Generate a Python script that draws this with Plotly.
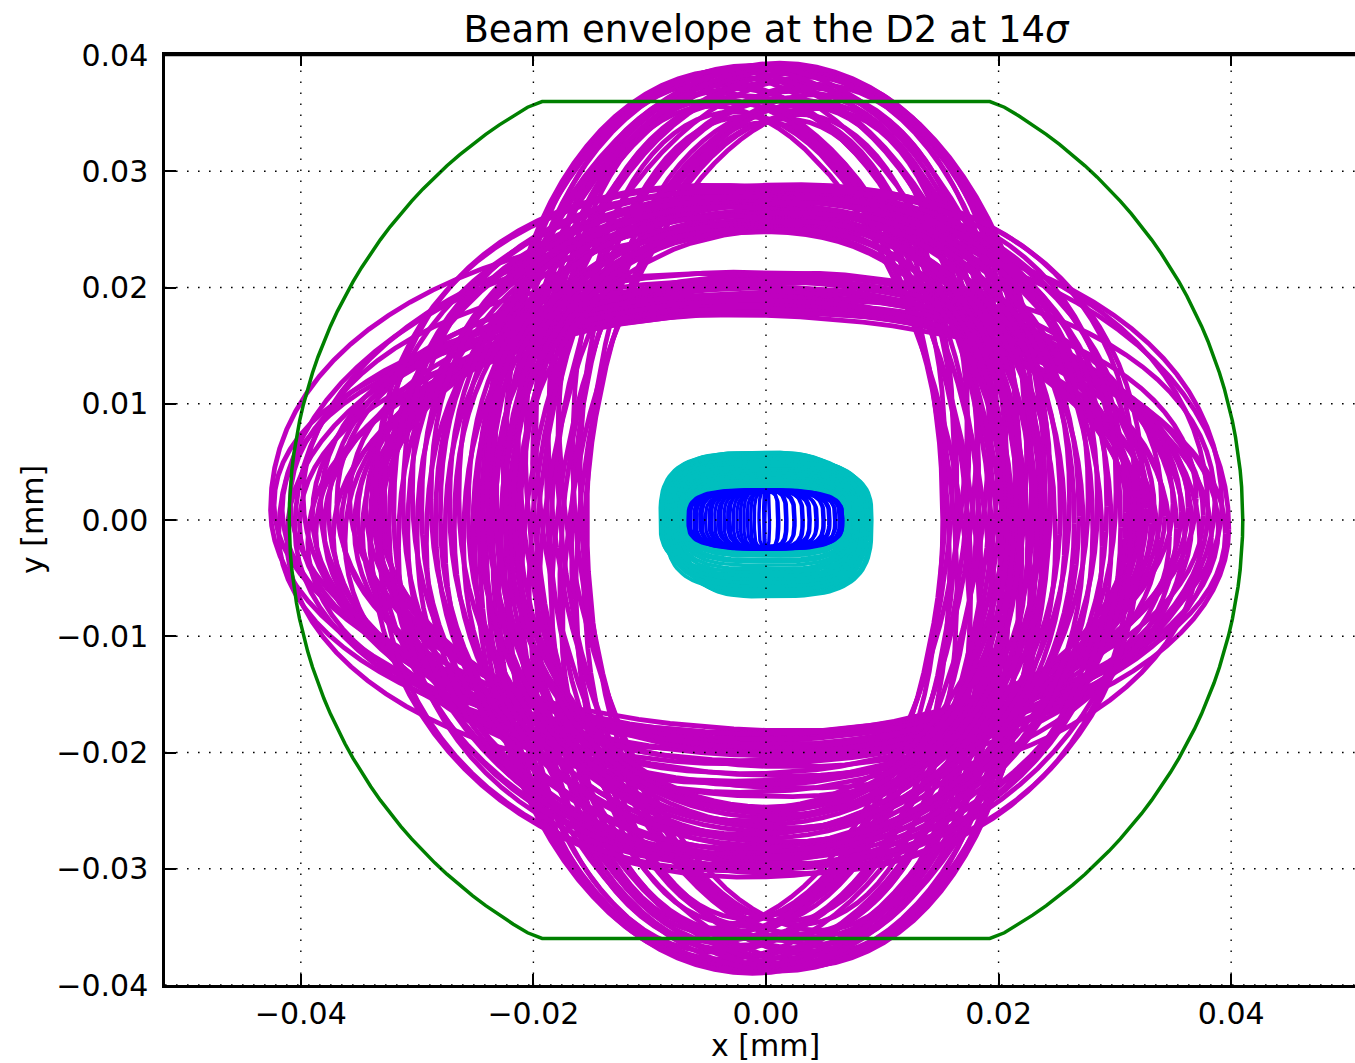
import numpy as np
import plotly.graph_objects as go

# ---------------------------------------------------------------------------
# Envelope outlines at the D2.  Each closed outline is described by its
# extents (left, right, top, bottom) and a small lean; the upper and lower
# halves may have different squareness.
# ---------------------------------------------------------------------------

# vertically elongated envelopes (ellipse-like)
tall_left = [-0.0154, -0.0156, -0.0159, -0.0161, -0.0164, -0.0167, -0.0169, -0.0172, -0.0175,
             -0.0177, -0.0180, -0.0183, -0.0185, -0.0188, -0.0191, -0.0193, -0.0196, -0.0199,
             -0.0201, -0.0204, -0.0207, -0.0209, -0.0212, -0.0215, -0.0217, -0.0220, -0.0223,
             -0.0225, -0.0228, -0.0231, -0.0234, -0.0237, -0.0240, -0.0243, -0.0246, -0.0250]
tall_right = [0.0152, 0.0154, 0.0157, 0.0159, 0.0162, 0.0164, 0.0167, 0.0169, 0.0172,
              0.0174, 0.0177, 0.0179, 0.0182, 0.0184, 0.0187, 0.0189, 0.0192, 0.0194,
              0.0197, 0.0199, 0.0202, 0.0204, 0.0207, 0.0209, 0.0212, 0.0214, 0.0217,
              0.0219, 0.0222, 0.0225, 0.0228, 0.0231, 0.0234, 0.0237, 0.0240, 0.0244]
tall_top = [0.0342, 0.0345, 0.0347, 0.0349, 0.0351, 0.0353, 0.0354, 0.0356, 0.0357,
            0.0359, 0.0360, 0.0362, 0.0363, 0.0365, 0.0366, 0.0368, 0.0369, 0.0371,
            0.0372, 0.0374, 0.0375, 0.0377, 0.0378, 0.0380, 0.0381, 0.0383, 0.0384,
            0.0385, 0.0386, 0.0387, 0.0388, 0.0389, 0.0390, 0.0391, 0.0392, 0.0393]
tall_bottom = [-0.0340, -0.0343, -0.0345, -0.0347, -0.0348, -0.0350, -0.0351, -0.0353, -0.0354,
               -0.0356, -0.0357, -0.0359, -0.0360, -0.0362, -0.0363, -0.0365, -0.0366, -0.0368,
               -0.0369, -0.0371, -0.0372, -0.0374, -0.0375, -0.0377, -0.0378, -0.0380, -0.0381,
               -0.0382, -0.0383, -0.0384, -0.0385, -0.0386, -0.0387, -0.0388, -0.0389, -0.0390]
tall_lean = [0.00, 0.05, -0.05, 0.08, -0.08, 0.03, 0.13, -0.13, 0.08, -0.08, 0.11, -0.11,
             0.05, -0.05, 0.12, -0.12, 0.07, -0.07, 0.09, -0.09, 0.11, -0.11, 0.04, -0.04,
             0.10, -0.10, 0.06, -0.06, 0.08, -0.08, 0.05, -0.05, 0.04, -0.03, 0.03, 0.03]

# horizontally elongated envelopes, long group (reach the outer tips)
long_left = [-0.0426, -0.0423, -0.0419, -0.0416, -0.0412, -0.0409, -0.0405, -0.0401, -0.0398,
             -0.0394, -0.0390, -0.0387, -0.0383, -0.0380, -0.0376, -0.0372, -0.0369, -0.0365,
             -0.0362, -0.0358, -0.0354, -0.0351, -0.0347, -0.0344, -0.0341, -0.0338, -0.0336,
             -0.0334, -0.0332, -0.0330]
long_right = [0.0398, 0.0395, 0.0392, 0.0389, 0.0386, 0.0383, 0.0380, 0.0376, 0.0373,
              0.0370, 0.0366, 0.0363, 0.0360, 0.0357, 0.0353, 0.0350, 0.0347, 0.0343,
              0.0340, 0.0337, 0.0334, 0.0331, 0.0328, 0.0325, 0.0322, 0.0320, 0.0318,
              0.0316, 0.0314, 0.0312]
long_top = [0.0252, 0.0176, 0.0249, 0.0180, 0.0208, 0.0185, 0.0256, 0.0178, 0.0211,
            0.0188, 0.0194, 0.0182, 0.0206, 0.0191, 0.0213, 0.0184, 0.0201, 0.0179,
            0.0209, 0.0187, 0.0196, 0.0183, 0.0204, 0.0190, 0.0212, 0.0186, 0.0200,
            0.0193, 0.0207, 0.0189]
long_bottom = [-0.0203, -0.0181, -0.0198, -0.0186, -0.0224, -0.0192, -0.0210, -0.0183, -0.0230,
               -0.0197, -0.0202, -0.0188, -0.0220, -0.0200, -0.0238, -0.0190, -0.0212, -0.0184,
               -0.0226, -0.0195, -0.0207, -0.0189, -0.0218, -0.0199, -0.0234, -0.0193, -0.0209,
               -0.0203, -0.0228, -0.0196]
long_lean = [-0.02, -0.03, 0.03, -0.02, 0.04, -0.04, 0.02, 0.01, -0.05, 0.05,
             -0.01, 0.03, -0.03, 0.02, -0.02, 0.04, -0.04, 0.01, 0.05, -0.05,
             0.02, -0.01, 0.03, -0.03, 0.04, -0.02, 0.01, -0.04, 0.02, -0.01]

# horizontally elongated envelopes, short group (higher tops)
short_left = [-0.0340, -0.0336, -0.0332, -0.0328, -0.0324, -0.0320, -0.0316, -0.0312, -0.0308,
              -0.0304, -0.0300, -0.0296, -0.0292, -0.0288, -0.0284, -0.0280, -0.0276, -0.0272,
              -0.0268, -0.0264, -0.0260, -0.0256, -0.0252, -0.0248, -0.0244, -0.0240, -0.0236,
              -0.0232, -0.0228, -0.0224, -0.0220, -0.0217, -0.0214, -0.0212]
short_right = [0.0325, 0.0321, 0.0317, 0.0313, 0.0309, 0.0305, 0.0301, 0.0297, 0.0293,
               0.0289, 0.0285, 0.0281, 0.0277, 0.0273, 0.0269, 0.0265, 0.0261, 0.0257,
               0.0253, 0.0249, 0.0245, 0.0241, 0.0237, 0.0233, 0.0229, 0.0225, 0.0221,
               0.0218, 0.0215, 0.0212, 0.0209, 0.0207, 0.0205, 0.0203]
short_top = [0.0288, 0.0287, 0.0285, 0.0286, 0.0283, 0.0284, 0.0281, 0.0282, 0.0279,
             0.0280, 0.0277, 0.0278, 0.0275, 0.0273, 0.0274, 0.0271, 0.0272, 0.0269,
             0.0267, 0.0268, 0.0265, 0.0263, 0.0264, 0.0261, 0.0259, 0.0260, 0.0257,
             0.0255, 0.0256, 0.0253, 0.0252, 0.0250, 0.0249, 0.0248]
short_bottom = [-0.0307, -0.0304, -0.0301, -0.0303, -0.0298, -0.0300, -0.0295, -0.0297, -0.0292,
                -0.0294, -0.0289, -0.0291, -0.0286, -0.0283, -0.0285, -0.0280, -0.0282, -0.0277,
                -0.0274, -0.0276, -0.0271, -0.0268, -0.0270, -0.0265, -0.0262, -0.0264, -0.0259,
                -0.0256, -0.0258, -0.0253, -0.0251, -0.0249, -0.0248, -0.0247]
short_lean = [0.03, -0.04, 0.06, -0.07, 0.02, -0.02, 0.08, -0.05, 0.04, -0.08, 0.05, -0.03,
              0.07, -0.06, 0.01, -0.01, 0.06, -0.04, 0.03, -0.07, 0.08, -0.02, 0.05, -0.05,
              0.02, -0.08, 0.04, -0.03, 0.07, -0.06, 0.01, -0.04, 0.06, -0.02]

# closed-orbit spread, outer (cyan) and core (blue)
orbit_left = [-0.0091, -0.0090, -0.0088, -0.0086, -0.0084, -0.0082, -0.0080, -0.0078,
              -0.0076, -0.0074, -0.0071, -0.0069,
              -0.0086, -0.0084, -0.0082, -0.0080, -0.0078, -0.0076, -0.0075, -0.0073,
              -0.0072, -0.0070, -0.0069, -0.0068, -0.0067, -0.0066]
orbit_right = [0.0066, 0.0068, 0.0070, 0.0072, 0.0074, 0.0076, 0.0079, 0.0081,
               0.0084, 0.0086, 0.0089, 0.0091,
               0.0087, 0.0085, 0.0083, 0.0081, 0.0079, 0.0077, 0.0075, 0.0073,
               0.0072, 0.0070, 0.0069, 0.0068, 0.0067, 0.0066]
orbit_top = [0.0058, 0.0058, 0.0057, 0.0057, 0.0056, 0.0055, 0.0055, 0.0054,
             0.0053, 0.0052, 0.0050, 0.0048,
             0.0052, 0.0050, 0.0048, 0.0046, 0.0044, 0.0042, 0.0040, 0.0038,
             0.0036, 0.0034, 0.0032, 0.0030, 0.0028, 0.0027]
orbit_bottom = [-0.0044, -0.0047, -0.0050, -0.0052, -0.0054, -0.0056, -0.0058, -0.0060,
                -0.0062, -0.0064, -0.0065, -0.0066,
                -0.0060, -0.0057, -0.0054, -0.0051, -0.0048, -0.0045, -0.0042, -0.0039,
                -0.0036, -0.0034, -0.0031, -0.0029, -0.0027, -0.0025]

core_left = [-0.0067, -0.0065, -0.0062, -0.0060, -0.0057, -0.0055, -0.0052, -0.0049,
             -0.0047, -0.0044, -0.0041, -0.0039, -0.0036, -0.0033, -0.0031, -0.0028,
             -0.0025, -0.0022, -0.0019, -0.0016, -0.0013, -0.0010, -0.0006, -0.0002]
core_right = [-0.0001, 0.0003, 0.0010, 0.0011, 0.0017, 0.0018, 0.0024, 0.0025,
              0.0031, 0.0032, 0.0037, 0.0038, 0.0043, 0.0044, 0.0049, 0.0050,
              0.0054, 0.0055, 0.0059, 0.0060, 0.0063, 0.0064, 0.0066, 0.0066]
core_top = [0.0026, 0.0025, 0.0026, 0.0024, 0.0025, 0.0026, 0.0024, 0.0025,
            0.0026, 0.0025, 0.0024, 0.0026, 0.0025, 0.0024, 0.0026, 0.0025,
            0.0024, 0.0025, 0.0026, 0.0024, 0.0025, 0.0024, 0.0025, 0.0024]
core_bottom = [-0.0024, -0.0023, -0.0025, -0.0024, -0.0023, -0.0025, -0.0024, -0.0023,
               -0.0024, -0.0025, -0.0023, -0.0024, -0.0025, -0.0023, -0.0024, -0.0025,
               -0.0023, -0.0024, -0.0025, -0.0023, -0.0024, -0.0025, -0.0023, -0.0024]

# D2 beam screen: circle clipped by two flats
aperture_radius = 0.041
aperture_half_height = 0.036

x_ticks = [-0.04, -0.02, 0.00, 0.02, 0.04]
y_ticks = [-0.04, -0.03, -0.02, -0.01, 0.00, 0.01, 0.02, 0.03, 0.04]


def outline(left, right, top, bottom, n_up, n_down, lean_x=0.0, lean_y=0.0, npts=97):
    """Closed loop spanning the given extents (superellipse halves)."""
    t = np.linspace(0.0, 2.0 * np.pi, npts)
    c, s = np.cos(t), np.sin(t)
    p = np.where(s >= 0, 2.0 / n_up, 2.0 / n_down)
    u = np.sign(c) * np.abs(c) ** p
    v = np.sign(s) * np.abs(s) ** p
    x = np.where(u >= 0, u * right, -u * left)
    y = np.where(v >= 0, v * top, -v * bottom)
    return x + lean_x * y, y + lean_y * x


def bundle(loops):
    xs, ys = [], []
    for x, y in loops:
        xs.extend(x.tolist() + [None])
        ys.extend(y.tolist() + [None])
    return xs, ys


magenta_loops = []
for i in range(len(tall_top)):
    magenta_loops.append(outline(tall_left[i], tall_right[i], tall_top[i], tall_bottom[i],
                                 2.0, 2.0, lean_x=tall_lean[i]))
for i in range(len(long_top)):
    magenta_loops.append(outline(long_left[i], long_right[i], long_top[i], long_bottom[i],
                                 2.1, 2.0, lean_y=long_lean[i]))
for i in range(len(short_top)):
    magenta_loops.append(outline(short_left[i], short_right[i], short_top[i], short_bottom[i],
                                 2.3, 2.1, lean_y=short_lean[i]))
cyan_loops = [outline(orbit_left[i], orbit_right[i], orbit_top[i], orbit_bottom[i], 3.2, 3.2)
              for i in range(len(orbit_top))]
blue_loops = [outline(core_left[i], core_right[i], core_top[i], core_bottom[i], 3.5, 3.5)
              for i in range(len(core_top))]

theta = np.linspace(0.0, 2.0 * np.pi, 181)
ap_x = aperture_radius * np.cos(theta)
ap_y = np.clip(aperture_radius * np.sin(theta), -aperture_half_height, aperture_half_height)

fig = go.Figure()
for loops, color, lw in [(magenta_loops, "rgb(191,0,191)", 4.8),
                         (cyan_loops, "rgb(0,191,191)", 3.6),
                         (blue_loops, "rgb(0,0,255)", 3.4)]:
    bx, by = bundle(loops)
    fig.add_trace(go.Scatter(x=bx, y=by, mode="lines", hoverinfo="skip",
                             line=dict(color=color, width=lw), showlegend=False))
fig.add_trace(go.Scatter(x=ap_x, y=ap_y, mode="lines", hoverinfo="skip",
                         line=dict(color="rgb(0,128,0)", width=3.5), showlegend=False))

# dotted grid drawn over the data
grid = dict(color="black", width=1.4, dash="1.6px,9.4px")
for v in x_ticks:
    fig.add_shape(type="line", xref="x", yref="paper", x0=v, x1=v, y0=0, y1=1,
                  line=grid, layer="above")
for v in y_ticks:
    fig.add_shape(type="line", xref="paper", yref="y", x0=0, x1=1, y0=v, y1=v,
                  line=grid, layer="above")

font = "DejaVu Sans"
fig.update_layout(
    width=1355, height=1063,
    margin=dict(l=165, r=0, t=55, b=78),
    paper_bgcolor="white", plot_bgcolor="white",
    font=dict(family=font, size=30, color="black"),
    title=dict(text="Beam envelope at the D2 at 14<i>σ</i>", xref="container", yref="container",
               x=766 / 1355, xanchor="center", y=1 - 29 / 1063, yanchor="middle",
               font=dict(family=font, size=37, color="black")),
    xaxis=dict(range=[-0.05168, 0.05065], tickvals=x_ticks, tickformat=".2f",
               showgrid=False, zeroline=False, showline=True, linecolor="black",
               linewidth=2.5, mirror="ticks", ticks="inside", ticklen=11, tickwidth=2,
               tickcolor="black", layer="above traces",
               tickfont=dict(family=font, size=30)),
    yaxis=dict(range=[-0.04, 0.04], tickvals=y_ticks, tickformat=".2f",
               showgrid=False, zeroline=False, showline=True, linecolor="black",
               linewidth=2.5, mirror=False, ticks="inside", ticklen=11, tickwidth=2,
               tickcolor="black", layer="above traces", ticklabelstandoff=8,
               tickfont=dict(family=font, size=30)),
    annotations=[
        dict(text="x [mm]", xref="x", yref="paper", x=0.0, y=(985 - 1045) / 930,
             xanchor="center", yanchor="middle", showarrow=False,
             font=dict(family=font, size=30)),
        dict(text="y [mm]", xref="paper", yref="y", x=(32 - 165) / 1190, y=0.0,
             xanchor="center", yanchor="middle", textangle=-90, showarrow=False,
             font=dict(family=font, size=30)),
    ],
)
# top spine
fig.add_shape(type="line", xref="paper", yref="paper", x0=0, x1=1, y0=1, y1=1,
              line=dict(color="black", width=2.5), layer="above")

fig.write_html("out.html")
